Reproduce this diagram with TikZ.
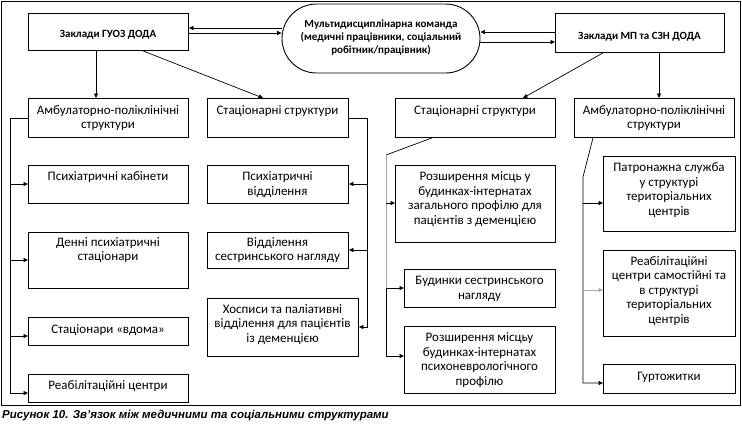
\documentclass[tikz,border=0pt]{standalone}
\usepackage{fontspec}
\setmainfont{Carlito}
\newfontfamily\capfont{Liberation Sans}
\usetikzlibrary{arrows.meta}
\newcommand\mybox[8][txt]{%
  \node[box, minimum width={(#5-#3)*1pt}, minimum height={(#6-#4)*1pt}] (#2) at (#3,#4) {};
  \node[#1] (#2t) at ({(#3+#5)/2},#7) {#8};}
\begin{document}
\begin{tikzpicture}[x=1pt,y=-1pt,
  box/.style={draw, line width=0.9pt, inner sep=0, anchor=north west},
  txt/.style={align=center, inner sep=0, font=\fontsize{13}{14.5}\selectfont},
  btxt/.style={align=center, inner sep=0, font=\bfseries\fontsize{11}{13}\selectfont},
  con/.style={line width=0.7pt},
  arr/.style={con, -{Triangle[length=4.5pt,width=4pt]}},
]
\useasboundingbox (0,0) rectangle (742,424);
\draw[line width=0.9pt] (1.5,1.5) rectangle (740,405.5);
% top level
\mybox[btxt]{guoz}{28}{13}{188}{50}{35}{Заклади ГУОЗ ДОДА}
\mybox[btxt]{mp}{555}{13}{724}{52}{37}{Заклади МП та СЗН ДОДА}
\node[draw, line width=0.9pt, rounded corners=34.5pt, minimum width=198pt, minimum height=69pt, inner sep=0] (stad) at (381,38.5) {};
\node[btxt] (stadt) at (381,38) {Мультидисциплінарна команда\\(медичні працівники, соціальний\\робітник/працівник)};
% level 2
\mybox{amb1}{28}{98}{188}{137}{118}{Амбулаторно-поліклінічні\\структури}
\mybox{stac1}{207}{98}{348}{137}{111}{Стаціонарні структури}
\mybox{stac2}{395}{98}{555}{137}{111}{Стаціонарні структури}
\mybox{amb2}{574}{98}{734}{137}{118}{Амбулаторно-поліклінічні\\структури}
% column 1
\mybox{kab}{28}{165}{188}{203}{177}{Психіатричні кабінети}
\mybox{denni}{28}{232}{188}{288}{250}{Денні психіатричні\\стаціонари}
\mybox{vdoma}{28}{317}{188}{345}{330}{Стаціонари «вдома»}
\mybox{reab}{28}{374}{188}{402}{386}{Реабілітаційні центри}
% column 2
\mybox{psv}{207}{165}{348}{203}{184.5}{Психіатричні\\відділення}
\mybox{vsn}{207}{232}{348}{268}{250}{Відділення\\сестринського нагляду}
\mybox{hosp}{207}{298}{358}{356}{324.5}{Хосписи та паліативні\\відділення для пацієнтів\\із деменцією}
% column 3
\mybox{rzp}{395}{165}{555}{242}{199}{Розширення місць у\\будинках-інтернатах\\загального профілю для\\пацієнтів з деменцією}
\mybox{bsn}{404}{269}{555}{307}{289}{Будинки сестринського\\нагляду}
\mybox{rpni}{404}{326}{555}{393}{360}{Розширення місцьу\\будинках-інтернатах\\психоневрологічного\\профілю}
% column 4
\mybox{patr}{603}{156}{735}{231}{190}{Патронажна служба\\у структурі\\територіальних\\центрів}
\mybox{reabc}{603}{250}{735}{336}{291}{Реабілітаційні\\центри самостійні та\\в структурі\\територіальних\\центрів}
\mybox{gurt}{603}{364}{735}{393}{377}{Гуртожитки}
% top connectors
\draw[arr] (stad.west |- 0,28) -- (guoz.east |- 0,28);
\draw[arr] (guoz.east |- 0,33) -- (stad.west |- 0,33);
\draw[arr] (mp.west |- 0,32) -- (stad.east |- 0,32);
\draw[arr] (stad.east |- 0,42) -- (mp.west |- 0,42);
\draw[arr] (guoz.south -| 96,0) -- (amb1.north -| 96,0);
\draw[arr] (guoz.south -| 143,0) -- (stac1.north -| 263,0);
\draw[arr] (mp.south -| 603,0) -- (stac2.north -| 523,0);
\draw[arr] (mp.south -| 659,0) -- (amb2.north -| 659,0);
% bracket 1
\coordinate (l1) at (10,118);
\coordinate (l2) at (10,393);
\draw[arr] (amb1.west |- l1) -- (l1) -- (l2) -- (reab.west |- l2);
\draw[arr] (10,184) -- (kab.west |- 0,184);
\draw[arr] (10,260) -- (denni.west |- 0,260);
\draw[arr] (10,336) -- (vdoma.west |- 0,336);
% bracket 2
\coordinate (m1) at (367,118);
\coordinate (m2) at (367,327);
\draw[arr] (stac1.east |- m1) -- (m1) -- (m2) -- (hosp.east |- m2);
\draw[arr] (367,184) -- (psv.east |- 0,184);
\draw[arr] (367,250) -- (vsn.east |- 0,250);
% bracket 3
\coordinate (r1) at (386,155);
\coordinate (r2) at (386,356);
\draw[con] (stac2.south -| 432,0) -- (r1);
\draw[con, gray!70] (r1) -- (386,288);
\draw[arr] (386,288) -- (r2) -- (rpni.west |- r2);
\draw[arr] (386,203) -- (rzp.west |- 0,203);
\draw[arr] (386,288) -- (bsn.west |- 0,288);
% bracket 4
\coordinate (s1) at (583,177);
\coordinate (s2) at (583,383);
\draw[arr] (amb2.south -| 593,0) -- (s1) -- (s2) -- (gurt.west |- s2);
\draw[arr] (583,203) -- (patr.west |- 0,203);
\draw[arr, gray!70] (583,290) -- (reabc.west |- 0,290);
% caption
\node[anchor=base west, inner sep=0, font=\capfont\bfseries\itshape\fontsize{11.5}{13}\selectfont] (cap) at (2,418) {Рисунок 10. Зв’язок між медичними та соціальними структурами};
\end{tikzpicture}
\end{document}
